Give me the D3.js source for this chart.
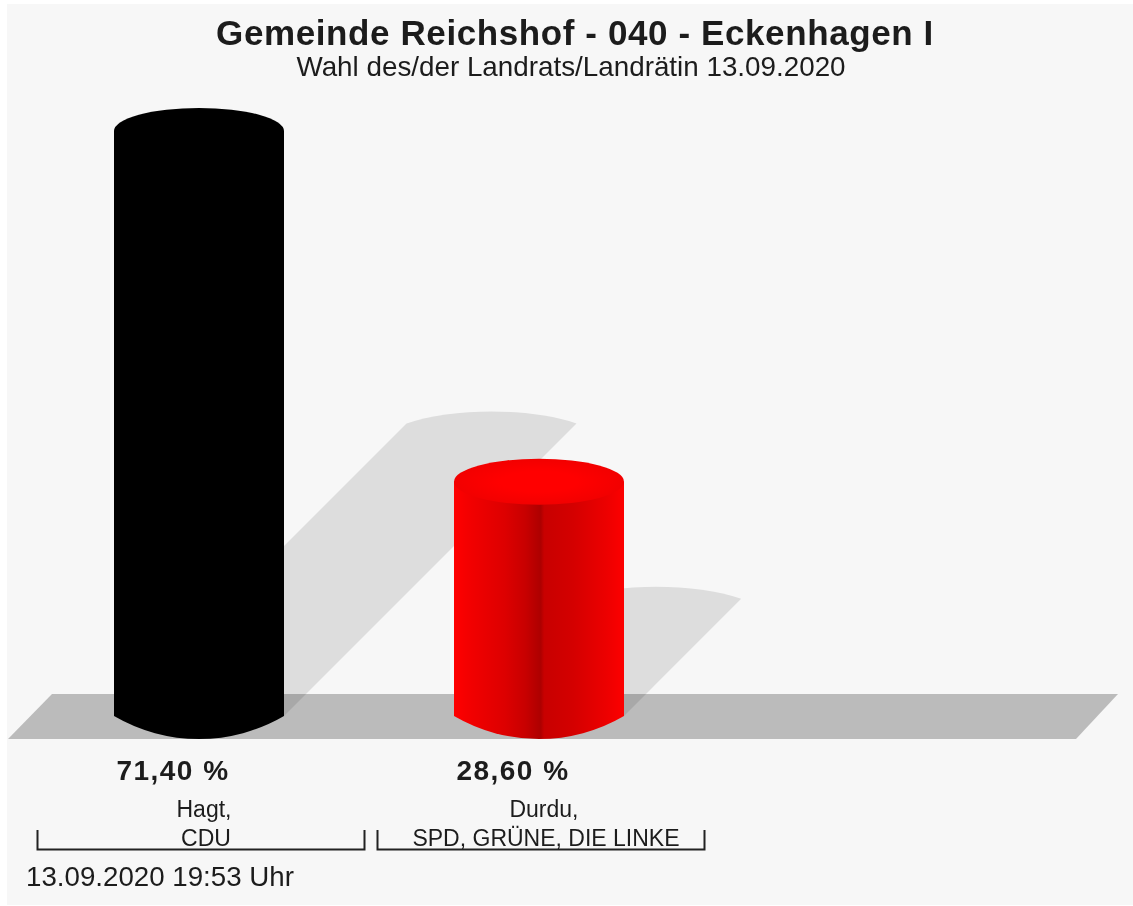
<!DOCTYPE html>
<html>
<head>
<meta charset="utf-8">
<script src="https://cdn.jsdelivr.net/npm/d3@7"></script>
<style>
  html, body { margin: 0; padding: 0; background: #fff; }
  svg { display: block; filter: blur(0.5px); }
  text { font-family: "Liberation Sans", Arial, sans-serif; fill: #1c1c1c; }
</style>
</head>
<body>
<div id="viz"></div>
<script>
const width = 1133;
const height = 906;

const titleText = 'Gemeinde Reichshof - 040 - Eckenhagen I';
const subtitleText = 'Wahl des/der Landrats/Landrätin 13.09.2020';
const dateText = '13.09.2020 19:53 Uhr';

const candidates = ['Hagt,', 'Durdu,'];
const parties = ['CDU', 'SPD, GRÜNE, DIE LINKE'];
const shares = [71.4, 28.6];
const shareLabels = ['71,40 %', '28,60 %'];
const barColors = ['#000000', '#ff0000'];
const barDarkColors = ['#000000', '#ad0000'];

const baseY = 716;
const rx = 85;
const ry = 23;

const svg = d3.select('#viz')
  .append('svg')
    .attr('width', width)
    .attr('height', height)
    .attr('viewBox', [0, 0, width, height]);

// Scales
const scaleX = d3.scaleBand()
  .domain(d3.range(shares.length))
  .range([29, 709]);

const scaleY = d3.scaleLinear()
  .domain([0, 71.4])
  .range([baseY, 131]);

const centerX = i => scaleX(i) + scaleX.bandwidth() / 2;

// Panel background
svg.append('rect')
  .attr('x', 7)
  .attr('y', 4)
  .attr('width', width - 7)
  .attr('height', height - 5)
  .attr('fill', '#f7f7f7');

// Floor
svg.append('path')
  .attr('d', 'M8,739 L1076,739 L1118,694 L52,694 Z')
  .attr('fill', '#bbbbbb');

// Gradients for the cylinder walls and tops
// [offset, how far towards the dark colour]
const wallStops = [[0, 0], [8, 0.14], [30, 0.41], [42, 0.67], [51, 1], [53, 0.67], [70, 0.52], [90, 0.22], [100, 0.02]];
const defs = svg.append('defs');
shares.forEach((d, i) => {
  const mix = d3.interpolateRgb(barColors[i], barDarkColors[i]);

  defs.append('linearGradient')
      .attr('id', `wall-${i}`)
    .selectAll('stop')
    .data(wallStops)
    .join('stop')
      .attr('offset', s => `${s[0]}%`)
      .attr('stop-color', s => mix(s[1]));

  const top = defs.append('radialGradient').attr('id', `top-${i}`);
  top.append('stop').attr('offset', '45%').attr('stop-color', barColors[i]);
  top.append('stop').attr('offset', '100%').attr('stop-color', mix(0.16));
});

// Shadows: the cylinder sheared up and to the right, half as tall as the bar
const shadows = svg.append('g').attr('class', 'shadows');
shares.forEach((d, i) => {
  const h = (baseY - scaleY(d)) / 2;
  const x0 = centerX(i) - rx;
  const x1 = centerX(i) + rx;
  const p = d3.path();
  p.moveTo(x0, baseY);
  p.lineTo(x0 + h, baseY - h);
  p.bezierCurveTo(x0 + h + 45, baseY - h - 16, x1 + h - 45, baseY - h - 16, x1 + h, baseY - h);
  p.lineTo(x1, baseY);
  p.closePath();
  shadows.append('path')
    .attr('d', p.toString())
    .attr('fill', '#000')
    .attr('fill-opacity', 0.1);
});

// Cylinders
const bars = svg.append('g').attr('class', 'bars');
const bottomR = (rx * rx + ry * ry) / (2 * ry); // the bottom edge is a flat circular arc, not half an ellipse
shares.forEach((d, i) => {
  const cx = centerX(i);
  const y = scaleY(d);
  const g = bars.append('g');
  g.append('path')
    .attr('d', `M${cx - rx},${y} L${cx - rx},${baseY} A${bottomR},${bottomR} 0 0 0 ${cx + rx},${baseY} L${cx + rx},${y} Z`)
    .attr('fill', `url(#wall-${i})`);
  g.append('ellipse')
    .attr('cx', cx)
    .attr('cy', y)
    .attr('rx', rx)
    .attr('ry', ry)
    .attr('fill', `url(#top-${i})`);
});

// Title
svg.append('text')
  .attr('x', 575)
  .attr('y', 45)
  .attr('text-anchor', 'middle')
  .style('font-size', '35px')
  .style('font-weight', 700)
  .style('letter-spacing', '0.6px')
  .text(titleText);

svg.append('text')
  .attr('x', 571)
  .attr('y', 76)
  .attr('text-anchor', 'middle')
  .style('font-size', '27.8px')
  .text(subtitleText);

// Value labels
svg.append('g')
  .selectAll('text')
  .data(shareLabels)
  .join('text')
    .attr('x', (d, i) => centerX(i) - 26)
    .attr('y', 780)
    .attr('text-anchor', 'middle')
    .style('font-size', '28px')
    .style('font-weight', 700)
    .style('letter-spacing', '1.5px')
    .text(d => d);

// Candidate labels and brackets
svg.append('g')
  .selectAll('text')
  .data(candidates)
  .join('text')
    .attr('x', (d, i) => centerX(i) + 5)
    .attr('y', 817)
    .attr('text-anchor', 'middle')
    .style('font-size', '23px')
    .text(d => d);

svg.append('g')
  .selectAll('text')
  .data(parties)
  .join('text')
    .attr('x', (d, i) => centerX(i) + 7)
    .attr('y', 846)
    .attr('text-anchor', 'middle')
    .style('font-size', '23px')
    .text(d => d);

svg.append('g')
  .selectAll('path')
  .data(parties)
  .join('path')
    .attr('d', (d, i) => {
      const left = scaleX(i) + 8.5;
      const right = scaleX(i) + scaleX.bandwidth() - 4.5;
      return `M${left},830 L${left},849.5 L${right},849.5 L${right},830`;
    })
    .attr('fill', 'none')
    .attr('stroke', '#222')
    .attr('stroke-width', 2);

// Timestamp
svg.append('text')
  .attr('x', 26)
  .attr('y', 886)
  .style('font-size', '27.7px')
  .text(dateText);
</script>
</body>
</html>
